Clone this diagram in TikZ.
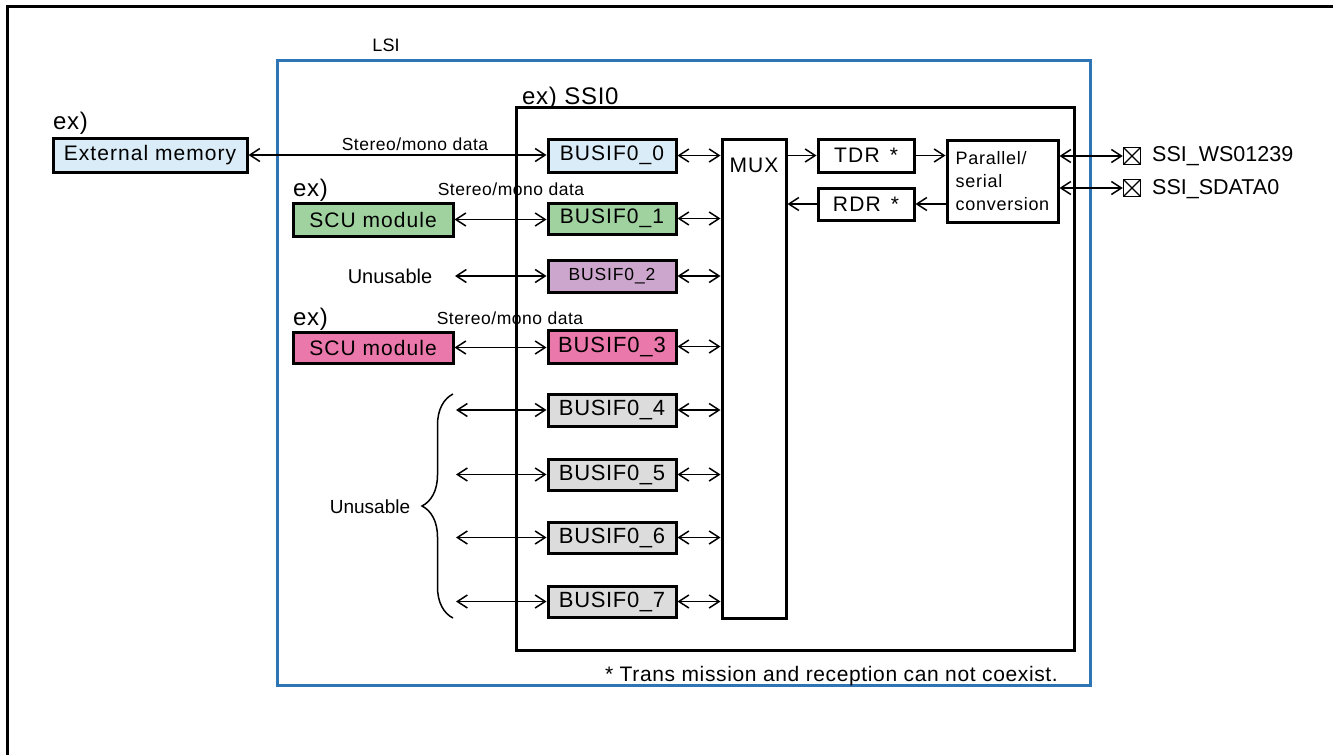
\documentclass[tikz,border=0pt]{standalone}
\usepackage{fontspec}
\setmainfont{Liberation Sans}
\usetikzlibrary{arrows.meta,decorations.pathreplacing}
\definecolor{lsiblue}{RGB}{46,117,182}
\definecolor{fillblue}{RGB}{218,236,247}
\definecolor{fillgreen}{RGB}{160,210,160}
\definecolor{fillpurple}{RGB}{204,166,205}
\definecolor{fillpink}{RGB}{235,120,170}
\definecolor{fillgray}{RGB}{220,220,220}
\newcommand\fsz[1]{\fontsize{#1pt}{#1pt}\selectfont}
\newcommand\lsp[1]{\addfontfeatures{LetterSpace=#1}}
\tikzset{
  blk/.style={draw=black, line width=3pt, inner sep=0pt, font=\fsz{21}\lsp{5}},
  conn/.style={line width=1.5pt, -{Straight Barb[length=10pt,width=13pt]}},
  dbl/.style={line width=1.5pt, {Straight Barb[length=10pt,width=13pt]}-{Straight Barb[length=10pt,width=13pt]}},
  lbl/.style={inner sep=0pt, font=\fsz{17.5}\lsp{3}},
  exl/.style={inner sep=0pt, anchor=west, font=\fsz{24}\lsp{3}},
  xbox/.style={draw=black, line width=1.5pt, minimum size=17pt, inner sep=0pt,
    path picture={\draw[line width=1.2pt] (path picture bounding box.south west) -- (path picture bounding box.north east)
      (path picture bounding box.north west) -- (path picture bounding box.south east);}},
}
\begin{document}
\begin{tikzpicture}[x=1pt,y=-1pt]
\useasboundingbox (0,0) rectangle (1333,755);
% outer frame
\draw[line width=3pt] (1333,6) -- (7,6) -- (7,755);
% LSI
\draw[lsiblue, line width=3pt] (277,60) rectangle (1090,685);
\node[inner sep=0pt, font=\fsz{18}] (lsi) at (386,45) {LSI};
% SSI0
\draw[line width=3pt] (516,107) rectangle (1074,650);
\node[inner sep=0pt, anchor=base west, font=\fsz{24}\lsp{3}] (ssi) at (522,104) {ex) SSI0};
% left modules
\node[exl] (ex1) at (53,123) {ex)};
\node[blk, fill=fillblue, minimum width=194pt, minimum height=34pt] (ext) at (150,155) {External memory};
\node[exl] (ex2) at (293,190) {ex)};
\node[blk, fill=fillgreen, minimum width=160pt, minimum height=33pt] (scu1) at (373,219.5) {SCU module};
\node[exl] (ex3) at (293,319) {ex)};
\node[blk, fill=fillpink, minimum width=160pt, minimum height=31pt] (scu3) at (373,347.5) {SCU module};
% BUSIF
\node[blk, fill=fillblue, minimum width=128pt, minimum height=33pt] (b0) at (612,155.5) {BUSIF0\_0};
\node[blk, fill=fillgreen, minimum width=128pt, minimum height=31pt] (b1) at (612,218.5) {BUSIF0\_1};
\node[blk, fill=fillpurple, minimum width=128pt, minimum height=32pt, font=\fsz{17.5}\lsp{5}] (b2) at (612,276) {BUSIF0\_2};
\node[blk, fill=fillpink, minimum width=128pt, minimum height=33pt, font=\fsz{22}\lsp{4}] (b3) at (612,346.5) {BUSIF0\_3};
\node[blk, fill=fillgray, minimum width=128pt, minimum height=32pt, font=\fsz{22}\lsp{3}] (b4) at (612,410) {BUSIF0\_4};
\node[blk, fill=fillgray, minimum width=128pt, minimum height=31pt, font=\fsz{22}\lsp{3}] (b5) at (612,474.5) {BUSIF0\_5};
\node[blk, fill=fillgray, minimum width=128pt, minimum height=31pt, font=\fsz{22}\lsp{3}] (b6) at (612,537.5) {BUSIF0\_6};
\node[blk, fill=fillgray, minimum width=128pt, minimum height=31pt, font=\fsz{22}\lsp{3}] (b7) at (612,601.5) {BUSIF0\_7};
% MUX
\node[blk, minimum width=64pt, minimum height=479pt] (mux) at (754,378.5) {};
\node[inner sep=0pt, font=\fsz{21}\lsp{5}] (muxl) at (754,165) {MUX};
% TDR RDR PS
\node[blk, minimum width=96pt, minimum height=33pt, font=\fsz{21}\lsp{6}] (tdr) at (866,155.5) {TDR\hspace{10pt}*};
\node[blk, minimum width=96pt, minimum height=32pt, font=\fsz{21}\lsp{6}] (rdr) at (866,204) {RDR\hspace{10pt}*};
\node[blk, minimum width=111pt, minimum height=82pt, align=left, font=\fontsize{18pt}{23pt}\selectfont\lsp{4}] (ps) at (1002.5,181)
  {Parallel/\\serial\\conversion};
% pins
\node[xbox] (x1) at (1132,156) {};
\node[xbox] (x2) at (1132,188) {};
\node[inner sep=0pt, anchor=west, font=\fsz{21.5}] (p1) at (1152,156) {SSI\_WS01239};
\node[inner sep=0pt, anchor=west, font=\fsz{21.5}] (p2) at (1152,189) {SSI\_SDATA0};
% connectors left
\draw[dbl] (ext.east) -- (ext.east -| b0.west);
\node[lbl] (sm1) at (415,144) {Stereo/mono data};
\draw[dbl] (scu1.east) -- (scu1.east -| b1.west);
\node[lbl] (sm2) at (511,189) {Stereo/mono data};
\coordinate (u2) at (455,276);
\draw[dbl] (u2) -- (u2 -| b2.west);
\node[inner sep=0pt, font=\fsz{20}] (un2) at (390,276) {Unusable};
\draw[dbl] (scu3.east) -- (scu3.east -| b3.west);
\node[lbl] (sm3) at (510,318) {Stereo/mono data};
\coordinate (u4) at (456,410);
\coordinate (u5) at (456,474.5);
\coordinate (u6) at (456,537.5);
\coordinate (u7) at (456,601.5);
\draw[dbl] (u4) -- (u4 -| b4.west);
\draw[dbl] (u5) -- (u5 -| b5.west);
\draw[dbl] (u6) -- (u6 -| b6.west);
\draw[dbl] (u7) -- (u7 -| b7.west);
\coordinate (brt) at (453,394);
\coordinate (brb) at (453,618);
\draw[line width=1.5pt, decorate, decoration={brace, amplitude=31pt}] (brb) -- (brt);
\node[inner sep=0pt, font=\fsz{19}] (un4) at (370,507) {Unusable};
% BUSIF to MUX
\foreach \b in {b0,b1,b2,b3,b4,b5,b6,b7}{
  \draw[dbl] (\b.east) -- (\b.east -| mux.west);
}
% MUX / TDR / RDR / PS
\draw[conn] (mux.east |- tdr.west) -- (tdr.west);
\draw[conn] (tdr.east) -- (tdr.east -| ps.west);
\draw[conn] (rdr.east -| ps.west) -- (rdr.east);
\draw[conn] (rdr.west) -- (rdr.west -| mux.east);
\draw[dbl] (ps.east |- x1.west) -- (x1.west);
\draw[dbl] (ps.east |- x2.west) -- (x2.west);
% footnote
\node[inner sep=0pt, anchor=east, font=\fsz{21}\lsp{3}] (fn) at (1058,676) {* Trans mission and reception can not coexist.};
\end{tikzpicture}
\end{document}
